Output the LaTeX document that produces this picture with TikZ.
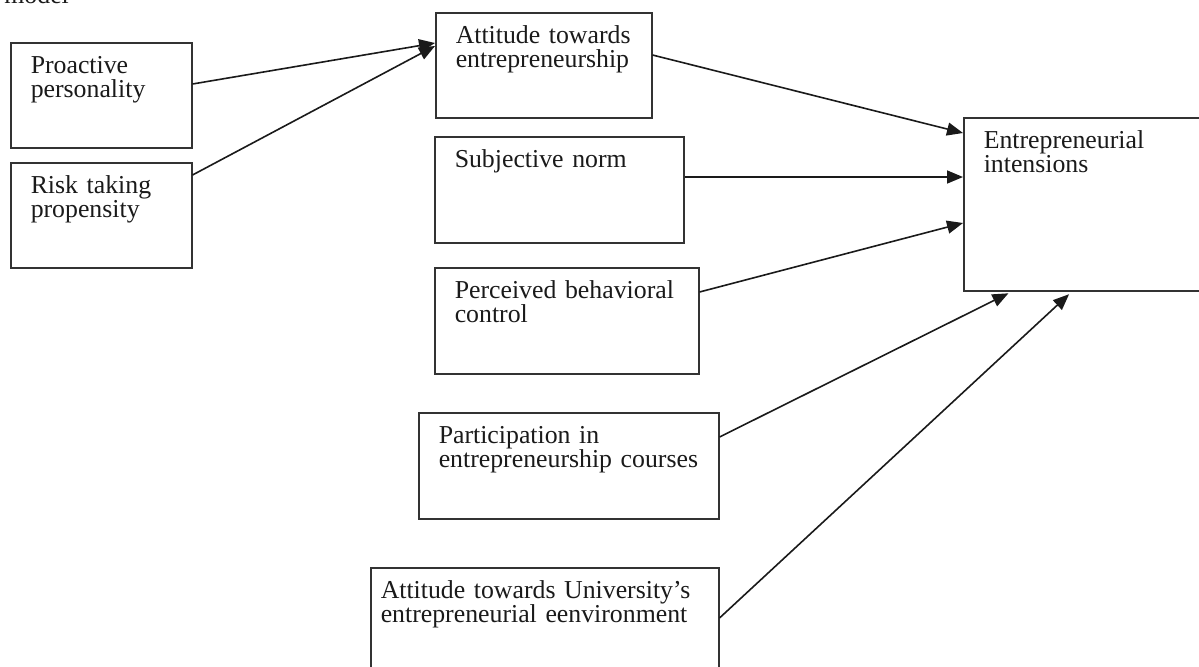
\documentclass[tikz,border=0pt]{standalone}
\usepackage{fontspec}
\setmainfont{Liberation Serif}
\usepackage{xcolor}
\usepackage{tikz}
\usetikzlibrary{arrows.meta,positioning}
\definecolor{ink}{HTML}{1A1A1A}
\definecolor{frame}{HTML}{333333}

\begin{document}
\begin{tikzpicture}[
  x=0.5pt,y=-0.5pt,
  font=\fontsize{12.9}{12.25}\selectfont,
  box/.style 2 args={draw=frame,line width=0.75pt,anchor=north west,align=left,text=ink,
    inner xsep=10pt,inner ysep=0pt,text height=15.25pt,text width=#1,text depth=#2},
  flow/.style={-{Triangle[length=8pt,width=6.5pt]},draw=ink,line width=0.8pt},
]
\useasboundingbox[fill=white] (0,0) rectangle (1199,666);
\node[anchor=base west,inner sep=0pt,text=ink] (caption) at (4,3) {model};

% left column
\node[box={70.5pt}{37.25pt}] (proactive) at (10,42) {Proactive\\personality};
\node[box={70.5pt}{37.25pt}] (risk) at (10,162) {Risk taking\\propensity};

% middle column
\node[box={88pt}{37.25pt}] (attitude) at (435,12) {Attitude towards\\entrepreneurship};
\node[box={104.5pt}{37.75pt}] (norm) at (434,136) {Subjective norm};
\node[box={112pt}{37.75pt}] (control) at (434,267) {Perceived behavioral\\control};
\node[box={130pt}{37.75pt}] (courses) at (418,412) {Participation in\\entrepreneurship courses};
\node[box={164pt}{37.75pt},inner xsep=5pt] (campus) at (370,567) {Attitude towards University's\\entrepreneurial eenvironment};

% outcome
\node[box={110pt}{71.25pt}] (intention) at (963,117) {Entrepreneurial\\intensions};

\draw[flow] (proactive.east |- 0,84) -- (attitude.west |- 0,43);
\draw[flow] (risk.east |- 0,175) -- (attitude.west |- 0,46);
\draw[flow] (attitude.east |- 0,55) -- (intention.west |- 0,133);
\draw[flow] (norm.east |- 0,177) -- (intention.west |- 0,177);
\draw[flow] (control.east |- 0,292) -- (intention.west |- 0,223);
\draw[flow,shorten >=2pt] (courses.east |- 0,437) -- (intention.south -| 1012,0);
\draw[flow,shorten >=2pt] (campus.east |- 0,618) -- (intention.south -| 1072,0);
\end{tikzpicture}
\end{document}
